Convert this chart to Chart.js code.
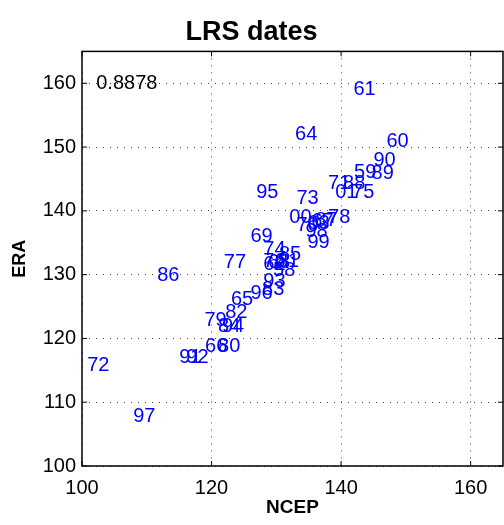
<!DOCTYPE html>
<html lang="en">
<head>
    <meta charset="UTF-8">
    <title>LRS dates</title>
    <script src="https://cdn.jsdelivr.net/npm/chart.js"></script>
    <style>
        html, body { margin: 0; padding: 0; background: #fff; }
        #wrap { width: 504px; height: 525px; }
    </style>
</head>
<body>
    <div id="wrap"><canvas id="lrs"></canvas></div>

    <script>
        // year labels and their LRS dates (day of year) in both reanalyses
        const years = ['58','59','60','61','62','63','64','65','66','67','68','69','70','71','72',
                       '73','74','75','76','77','78','79','80','81','82','83','84','85','86','87',
                       '88','89','90','91','92','93','94','95','96','97','98','99','00','01'];
        const ncep = [129.5,142.0,147.0,141.9,128.0,134.8,132.9,123.0,119.0,135.4,128.7,126.0,133.1,138.0,100.8,
                      133.1,128.0,141.7,128.0,121.9,138.0,118.9,121.0,130.1,122.1,127.8,121.0,130.4,111.6,136.0,
                      140.3,144.7,145.0,115.0,116.1,128.0,121.6,126.9,126.0,107.9,134.5,134.8,132.0,139.1];
        const era  = [130.6,146.0,150.9,159.0,131.6,138.0,152.0,126.1,118.8,138.3,131.9,136.0,137.7,144.3,115.7,
                      141.9,133.9,142.9,132.0,131.9,138.9,122.8,118.8,132.0,124.0,127.6,121.8,133.1,129.8,138.5,
                      144.3,145.8,147.9,117.0,117.0,128.9,121.8,142.9,127.0,107.8,136.7,135.0,138.9,142.9];

        const xTicks = [100, 120, 140, 160];
        const yTicks = [100, 110, 120, 130, 140, 150, 160];
        const corrText = '0.8878';
        const corrAt = [102.2, 160];

        const points = ncep.map((x, i) => ({ x: x, y: era[i] }));
        const fontName = '"Liberation Sans", Arial, sans-serif';

        // draws the year text at each point, plus box and inner ticks like matlab
        const textLabels = {
            id: 'textLabels',
            afterDatasetsDraw(chart) {
                const ctx = chart.ctx;
                const area = chart.chartArea;
                const xs = chart.scales.x, ys = chart.scales.y;
                ctx.save();
                ctx.beginPath();
                ctx.rect(area.left, area.top, area.right - area.left, area.bottom - area.top);
                ctx.clip();
                ctx.font = '20px ' + fontName;
                ctx.textAlign = 'left';
                ctx.textBaseline = 'middle';
                ctx.fillStyle = '#0000ff';
                chart.getDatasetMeta(0).data.forEach((el, i) => {
                    ctx.fillText(years[i], el.x, el.y);
                });
                ctx.fillStyle = '#000';
                ctx.fillText(corrText, xs.getPixelForValue(corrAt[0]), ys.getPixelForValue(corrAt[1]));
                ctx.restore();

                ctx.save();
                ctx.strokeStyle = '#000';
                ctx.lineWidth = 1.5;
                ctx.strokeRect(area.left, area.top, area.right - area.left, area.bottom - area.top);
                ctx.lineWidth = 1;
                ctx.beginPath();
                xTicks.forEach(v => {
                    const px = xs.getPixelForValue(v);
                    ctx.moveTo(px, area.bottom); ctx.lineTo(px, area.bottom - 5);
                    ctx.moveTo(px, area.top); ctx.lineTo(px, area.top + 5);
                });
                yTicks.forEach(v => {
                    const py = ys.getPixelForValue(v);
                    ctx.moveTo(area.left, py); ctx.lineTo(area.left + 5, py);
                    ctx.moveTo(area.right, py); ctx.lineTo(area.right - 5, py);
                });
                ctx.stroke();
                ctx.restore();
            }
        };

        const gridStyle = {
            color: '#444',
            lineWidth: 1,
            drawTicks: false
        };
        const borderStyle = { display: false, dash: [1, 6] };

        new Chart(document.getElementById('lrs').getContext('2d'), {
            type: 'scatter',
            data: {
                datasets: [{
                    data: points,
                    pointRadius: 0,
                    pointHoverRadius: 0
                }]
            },
            options: {
                responsive: true,
                maintainAspectRatio: false,
                animation: false,
                events: [],
                layout: { padding: { left: 0, right: 1, top: 0, bottom: 0 } },
                plugins: {
                    legend: { display: false },
                    tooltip: { enabled: false },
                    title: {
                        display: true,
                        text: 'LRS dates',
                        color: '#000',
                        font: { family: fontName, size: 27, weight: 'bold' },
                        padding: { top: 16, bottom: 3 }
                    }
                },
                scales: {
                    x: {
                        type: 'linear',
                        min: 100,
                        max: 165,
                        grid: gridStyle,
                        border: borderStyle,
                        afterBuildTicks: s => { s.ticks = xTicks.map(v => ({ value: v })); },
                        ticks: {
                            color: '#000',
                            padding: 10,
                            font: { family: fontName, size: 20 }
                        },
                        title: {
                            display: true,
                            text: 'NCEP',
                            color: '#000',
                            padding: { top: 6, bottom: 6 },
                            font: { family: fontName, size: 19, weight: 'bold' }
                        },
                        afterFit: s => { s.height = 59; }
                    },
                    y: {
                        type: 'linear',
                        min: 100,
                        max: 165,
                        grid: gridStyle,
                        border: borderStyle,
                        afterBuildTicks: s => { s.ticks = yTicks.map(v => ({ value: v })); },
                        ticks: {
                            color: '#000',
                            padding: 6,
                            font: { family: fontName, size: 20 }
                        },
                        title: {
                            display: true,
                            text: 'ERA',
                            color: '#000',
                            padding: { top: 9, bottom: 4 },
                            font: { family: fontName, size: 18, weight: 'bold' }
                        },
                        afterFit: s => { s.width = 82; }
                    }
                }
            },
            plugins: [textLabels]
        });
    </script>
</body>
</html>
